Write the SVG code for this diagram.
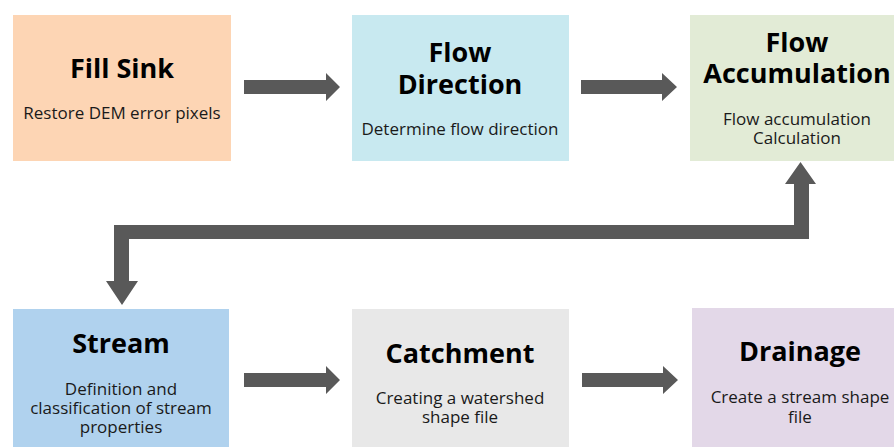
<svg xmlns="http://www.w3.org/2000/svg" width="894" height="447" viewBox="0 0 894 447">
<style>
.t{font-family:"Open Sans","Noto Sans","Liberation Sans",sans-serif;font-weight:bold;font-size:27px;fill:#000;text-anchor:middle}
.s{font-family:"Open Sans","Noto Sans","Liberation Sans",sans-serif;font-size:17px;fill:#1a1a1a;text-anchor:middle}
.a{fill:#595959}
</style>
<rect width="894" height="447" fill="#fff"/>
<g id="fill-sink">
<rect x="13" y="15" width="218" height="146" fill="#FDD5B4"/>
<text class="t" x="122" y="78">Fill Sink</text>
<text class="s" x="122" y="119">Restore DEM error pixels</text>
</g>
<g id="flow-direction">
<rect x="352" y="15" width="217" height="146" fill="#C8E9F0"/>
<text class="t" x="460" y="62">Flow</text>
<text class="t" x="460" y="94">Direction</text>
<text class="s" x="460" y="135">Determine flow direction</text>
</g>
<g id="flow-accumulation">
<rect x="690" y="15" width="204" height="146" fill="#E2EBD6"/>
<text class="t" x="797" y="52">Flow</text>
<text class="t" x="797" y="83">Accumulation</text>
<text class="s" x="797" y="125">Flow accumulation</text>
<text class="s" x="797" y="144">Calculation</text>
</g>
<g id="stream">
<rect x="13" y="309" width="216" height="138" fill="#B0D2EE"/>
<text class="t" x="121" y="353">Stream</text>
<text class="s" x="121" y="395">Definition and</text>
<text class="s" x="121" y="414">classification of stream</text>
<text class="s" x="121" y="433">properties</text>
</g>
<g id="catchment">
<rect x="352" y="309" width="217" height="138" fill="#E8E8E8"/>
<text class="t" x="460" y="363">Catchment</text>
<text class="s" x="460" y="404">Creating a watershed</text>
<text class="s" x="460" y="423">shape file</text>
</g>
<g id="drainage">
<rect x="692" y="308" width="202" height="139" fill="#E3D8E8"/>
<text class="t" x="800" y="361">Drainage</text>
<text class="s" x="800" y="403">Create a stream shape</text>
<text class="s" x="800" y="423">file</text>
</g>
<g id="connectors">
<polygon class="a" points="244,80 326,80 326,73 340,87 326,101 326,94 244,94"/>
<polygon class="a" points="581,80 662,80 662,73 677,87 662,101 662,94 581,94"/>
<polygon class="a" points="244,373 326,373 326,366 340,380 326,394 326,387 244,387"/>
<polygon class="a" points="582,373 663,373 663,366 678,380 663,394 663,387 582,387"/>
<polygon class="a" points="794,239 794,184 785,184 800.5,162 816,184 809,184 809,239 129,239 129,281 138,281 122,305 106,281 114,281 114,225 794,225"/>
</g>
</svg>
